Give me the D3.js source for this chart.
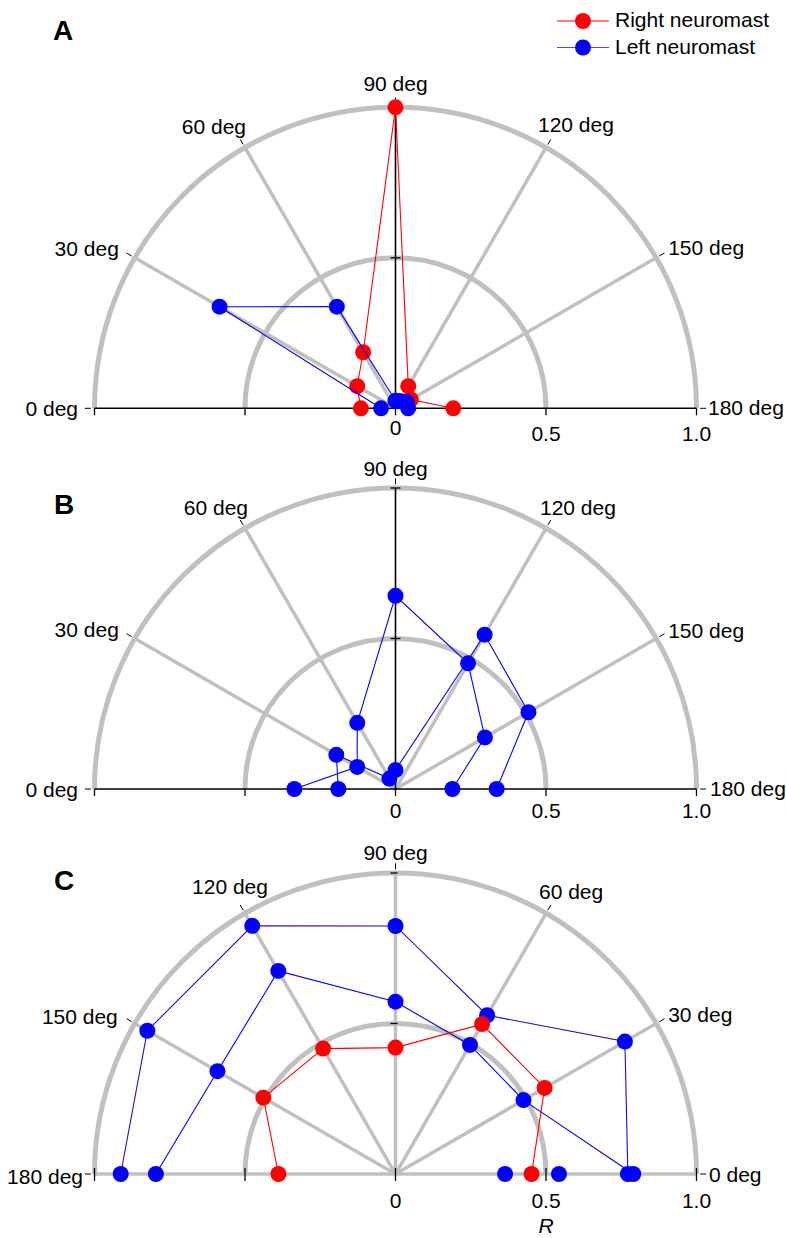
<!DOCTYPE html>
<html>
<head>
<meta charset="utf-8">
<script src="https://cdn.jsdelivr.net/npm/d3@7"></script>
<style>
  html, body { margin: 0; padding: 0; background: #fff; }
  svg { display: block; font-family: "Liberation Sans", Arial, Helvetica, sans-serif; }
</style>
</head>
<body>
<svg id="chart" width="786" height="1238"></svg>
<script>
// ---------------- DATA ----------------
const angles = [0, 30, 60, 90, 120, 150, 180];
const angleLabels = ["0 deg", "30 deg", "60 deg", "90 deg", "120 deg", "150 deg", "180 deg"];
const gridRadii = [0.5, 1.0];
const radiusTicks = [0, 0.5, 1.0];
const radiusTickLabels = ["0", "0.5", "1.0"];
const axisTicks = [-1, -0.5, 0, 0.5, 1];
const legendLabels = ["Right neuromast", "Left neuromast"];
const panelNames = ["A", "B", "C"];
const axisTitle = "R";

// Panel A
const aRight = [0.115, 0.147, 0.215, 1.0, 0.085, 0.059, 0.192];
const aLeft  = [0.048, 0.675, 0.39, 0.025, 0.028, 0.043, 0.042];
// Panel B (left neuromast, two runs)
const bLeft1 = [0.336, 0.147, 0.254, 0.642, 0.482, 0.343, 0.189];
const bLeft2 = [0.19, 0.227, 0.04, 0.063, 0.592, 0.51, 0.336];
// Panel C
const cRight = [0.452, 0.572, 0.575, 0.42, 0.481, 0.507, 0.389];
const cLeft1 = [0.772, 0.880, 0.609, 0.824, 0.952, 0.952, 0.913];
const cLeft2 = [0.79, 0.491, 0.495, 0.5725, 0.779, 0.683, 0.796];
const cLeftExtraR = [0.364, 0.543];
const cLeftExtraAngle = [0, 0];

// ---------------- STYLE / LAYOUT ----------------
const RED = "#ff0000", BLUE = "#0000ff", GRAY = "#c0c0c0";
const FONT = 21;
const cx = 395.5;
const rScale = d3.scaleLinear().domain([0, 1]).range([0, 301]);

const svg = d3.select("#chart");

function toXY(p, ang, r) {
  const a = ang * Math.PI / 180;
  return [p.cx + p.dir * rScale(r) * Math.cos(a), p.cy - rScale(r) * Math.sin(a)];
}

const panels = [
  {
    name: panelNames[0], cy: 408.3, dir: -1, blackAxes: true, labelPos: [53, 40],
    angleLab: [["end", -16.5, 0], ["end", -16, -9], ["end", 1, -20.5], ["middle", 0, -23.5],
               ["start", -8, -23], ["start", 12, -10], ["start", 11.5, -1]],
    tickLabY: [427.5, 434, 434], tickDown: true,
    series: [
      { vals: aRight, color: RED, line: RED },
      { vals: aLeft, color: BLUE, line: BLUE }
    ]
  },
  {
    name: panelNames[1], cy: 789, dir: -1, blackAxes: true, labelPos: [54, 514],
    angleLab: [["end", -16.5, 1], ["end", -16, -8.5], ["end", 3, -21], ["middle", 0, -19],
               ["start", -6, -21], ["start", 12, -7.5], ["start", 13.5, 0]],
    tickLabY: [810.5, 810.5, 810.5], tickDown: true,
    series: [
      { vals: bLeft1, color: BLUE, line: BLUE },
      { vals: bLeft2, color: BLUE, line: BLUE }
    ]
  },
  {
    name: panelNames[2], cy: 1174, dir: 1, blackAxes: false, labelPos: [54, 890],
    angleLab: [["start", 12.5, 1], ["start", 12, -8.5], ["start", -7, -21.5], ["middle", 0, -20],
               ["middle", -15, -27], ["end", -17, -6.5], ["end", -11.5, 2.5]],
    tickLabY: [1201, 1201, 1201], tickDown: false,
    series: [
      { vals: cLeft1, color: BLUE, line: "#3300cc" },
      { vals: cLeft2, color: BLUE, line: BLUE },
      { vals: cRight, color: RED, line: RED }
    ],
    extra: { r: cLeftExtraR, ang: cLeftExtraAngle, color: BLUE }
  }
];

panels.forEach(p => {
  p.cx = cx;
  const g = svg.append("g");

  // gray grid circles
  gridRadii.forEach(r => {
    const path = d3.path();
    path.arc(p.cx, p.cy, rScale(r), Math.PI, 2 * Math.PI, false);
    g.append("path").attr("d", path.toString())
      .attr("fill", "none").attr("stroke", GRAY).attr("stroke-width", 5);
  });

  // gray radial spokes
  const spokeAngles = p.blackAxes ? [30, 60, 120, 150] : angles;
  spokeAngles.forEach(a => {
    const [x, y] = toXY(p, a, 1);
    g.append("line").attr("x1", p.cx).attr("y1", p.cy).attr("x2", x).attr("y2", y)
      .attr("stroke", GRAY).attr("stroke-width", 3.5);
  });

  // black axes (A, B)
  if (p.blackAxes) {
    g.append("line").attr("x1", p.cx - rScale(1)).attr("x2", p.cx + rScale(1))
      .attr("y1", p.cy).attr("y2", p.cy).attr("stroke", "#000").attr("stroke-width", 1.6);
    g.append("line").attr("x1", p.cx).attr("x2", p.cx)
      .attr("y1", p.cy).attr("y2", p.cy - rScale(1)).attr("stroke", "#000").attr("stroke-width", 1.6);
  }

  // black ticks on horizontal axis
  axisTicks.forEach(v => {
    const x = p.cx + Math.sign(v) * rScale(Math.abs(v));
    g.append("line").attr("x1", x).attr("x2", x)
      .attr("y1", p.tickDown ? p.cy : p.cy - 6).attr("y2", p.cy + 7)
      .attr("stroke", "#000").attr("stroke-width", 1.3);
  });
  // black ticks on vertical axis
  gridRadii.forEach(r => {
    g.append("line").attr("x1", p.cx - 5).attr("x2", p.cx + (p.blackAxes ? 5 : 2))
      .attr("y1", p.cy - rScale(r)).attr("y2", p.cy - rScale(r))
      .attr("stroke", "#000").attr("stroke-width", 1.3);
  });

  // angle labels with small ticks
  angles.forEach((a, i) => {
    const [x1, y1] = toXY(p, a, 1.012);
    const [x2, y2] = toXY(p, a, 1.032);
    g.append("line").attr("x1", x1).attr("y1", y1).attr("x2", x2).attr("y2", y2)
      .attr("stroke", "#000").attr("stroke-width", 1);
    const [px, py] = toXY(p, a, 1);
    const [anchor, dx, dy] = p.angleLab[i];
    g.append("text").attr("x", px + dx).attr("y", py + dy).attr("dy", "0.35em")
      .attr("text-anchor", anchor).attr("font-size", FONT).attr("fill", "#000")
      .text(angleLabels[i]);
  });

  // radius tick labels (right side)
  radiusTicks.forEach((v, i) => {
    g.append("text").attr("x", p.cx + rScale(v)).attr("y", p.tickLabY[i]).attr("dy", "0.35em")
      .attr("text-anchor", "middle").attr("font-size", FONT).text(radiusTickLabels[i]);
  });

  // panel letter
  g.append("text").attr("x", p.labelPos[0]).attr("y", p.labelPos[1])
    .attr("font-size", 28).attr("font-weight", "bold").text(p.name);

  // series
  const line = d3.line().x(d => d[0]).y(d => d[1]);
  p.series.forEach(s => {
    const pts = s.vals.map((r, i) => toXY(p, angles[i], r));
    g.append("path").attr("d", line(pts)).attr("fill", "none")
      .attr("stroke", s.line).attr("stroke-width", 1.1);
    g.selectAll(null).data(pts).enter().append("circle")
      .attr("cx", d => d[0]).attr("cy", d => d[1]).attr("r", 8).attr("fill", s.color);
  });
  if (p.extra) {
    p.extra.r.forEach((r, i) => {
      const [x, y] = toXY(p, p.extra.ang[i], r);
      g.append("circle").attr("cx", x).attr("cy", y).attr("r", 8).attr("fill", p.extra.color);
    });
  }
});

// axis title
svg.append("text").attr("x", cx + rScale(0.5)).attr("y", 1233)
  .attr("text-anchor", "middle").attr("font-size", FONT).attr("font-style", "italic").text(axisTitle);

// legend
const legColors = [RED, "#4a4aff"];
const legDot = [RED, BLUE];
const legY = [21, 47.5];
legendLabels.forEach((t, i) => {
  svg.append("line").attr("x1", 557).attr("x2", 609).attr("y1", legY[i]).attr("y2", legY[i])
    .attr("stroke", legColors[i]).attr("stroke-width", 1.1);
  svg.append("circle").attr("cx", 583).attr("cy", legY[i]).attr("r", 8).attr("fill", legDot[i]);
  svg.append("text").attr("x", 615).attr("y", legY[i] - 1).attr("dy", "0.35em")
    .attr("font-size", FONT).text(t);
});
</script>
</body>
</html>
